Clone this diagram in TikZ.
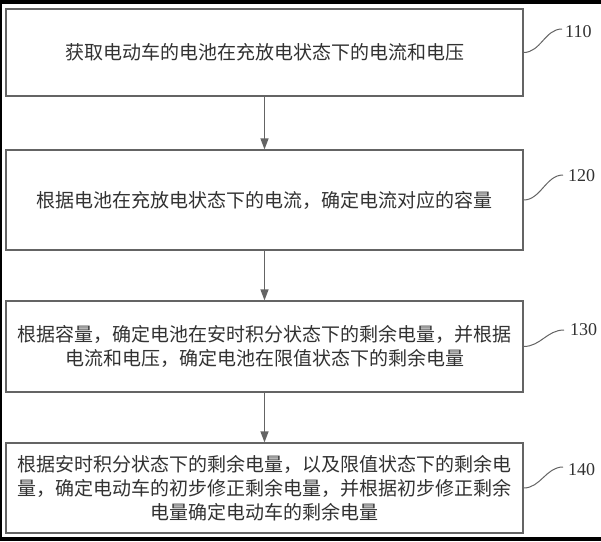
\documentclass[tikz,border=0pt]{standalone}
\usepackage{fontspec}
\setmainfont{Liberation Serif}
\newfontfamily\cjk{Noto Sans CJK SC}
\usetikzlibrary{arrows.meta}
\definecolor{boxgray}{RGB}{100,100,100}
\definecolor{txtgray}{RGB}{50,50,50}
\tikzset{
  stepbox/.style={draw=boxgray, line width=1.2pt, minimum width=517pt, inner sep=0pt,
    text width=505pt, align=center, text=txtgray,
    font=\cjk\fontsize{19}{24}\selectfont},
  flowarrow/.style={draw=boxgray, line width=1.2pt, -{Triangle[length=11pt,width=8pt]}},
  steplabel/.style={anchor=west, inner sep=0pt, text=txtgray, font=\fontsize{18}{18}\selectfont},
  tildeline/.style={draw=boxgray, line width=1pt}
}
\begin{document}
\begin{tikzpicture}[x=1pt,y=-1pt]
\useasboundingbox (0,0) rectangle (601,541);
\fill[white] (0,0) rectangle (601,541);
\fill[black] (0,0) rectangle (601,4);
\fill[black] (0,537) rectangle (601,541);
\fill[black] (0,0) rectangle (1.5,541);

\node[stepbox, minimum height=87pt] (b1) at (264.5,52.5) {获取电动车的电池在充放电状态下的电流和电压};
\node[stepbox, minimum height=100pt] (b2) at (264.5,200) {根据电池在充放电状态下的电流，确定电流对应的容量};
\node[stepbox, minimum height=91pt] (b3) at (264.5,346.5) {根据容量，确定电池在安时积分状态下的剩余电量，并根据\\电流和电压，确定电池在限值状态下的剩余电量};
\node[stepbox, minimum height=90pt] (b4) at (264.5,488) {根据安时积分状态下的剩余电量，以及限值状态下的剩余电\\量，确定电动车的初步修正剩余电量，并根据初步修正剩余\\电量确定电动车的剩余电量};

\draw[flowarrow] (b1) -- (b2);
\draw[flowarrow] (b2) -- (b3);
\draw[flowarrow] (b3) -- (b4);

\node[steplabel] (l1) at (565,32) {110};
\node[steplabel] (l2) at (568,176) {120};
\node[steplabel] (l3) at (570,330) {130};
\node[steplabel] (l4) at (568,470) {140};

\coordinate (e1) at (562,29);
\coordinate (e2) at (563,175);
\coordinate (e3) at (564,330);
\coordinate (e4) at (563,467);

\draw[tildeline] (b1.east) .. controls +(17,0) and +(-17,0) .. (e1);
\draw[tildeline] (b2.east) .. controls +(17,0) and +(-17,0) .. (e2);
\draw[tildeline] (b3.east) .. controls +(17,0) and +(-17,0) .. (e3);
\draw[tildeline] (b4.east) .. controls +(17,0) and +(-17,0) .. (e4);
\end{tikzpicture}
\end{document}
